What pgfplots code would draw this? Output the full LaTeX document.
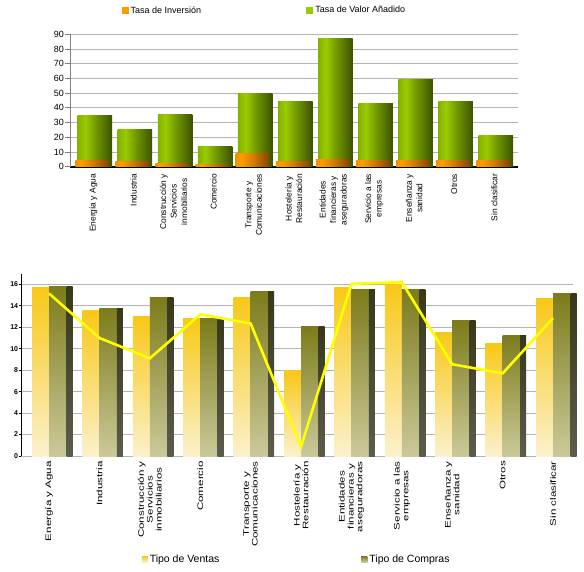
\documentclass[border=0pt]{standalone}
\usepackage{fontspec}
\setmainfont{Liberation Sans}
\usepackage{pgfplots}
\pgfplotsset{compat=1.18}

\definecolor{gridgray}{HTML}{B4B4B4}
\definecolor{g1}{HTML}{86B000}
\definecolor{g2}{HTML}{9ACC00}
\definecolor{g3}{HTML}{3C5200}
\definecolor{o1}{HTML}{F09000}
\definecolor{o2}{HTML}{FF9C00}
\definecolor{o3}{HTML}{864600}
\definecolor{legorange}{HTML}{FF9900}
\definecolor{leggreen}{HTML}{99CC00}
\definecolor{vtop}{HTML}{F8C818}
\definecolor{vbot}{HTML}{FBF1CC}
\definecolor{ctop}{HTML}{7C7C1C}
\definecolor{cbot}{HTML}{CBC99A}
\definecolor{stop}{HTML}{38381A}
\definecolor{sbot}{HTML}{5C5C4E}
\definecolor{linecol}{HTML}{FFFF00}

\pgfdeclarehorizontalshading{cylgreen}{100bp}{color(0bp)=(g1); color(25bp)=(g1); color(36bp)=(g2); color(52bp)=(g2!55!g3); color(75bp)=(g3); color(100bp)=(g3)}
\pgfdeclarehorizontalshading{cylorange}{100bp}{color(0bp)=(o1); color(25bp)=(o1); color(34bp)=(o2); color(52bp)=(o2!60!o3); color(75bp)=(o3); color(100bp)=(o3)}

% one bar per \addplot so that each bar gets its own shading
\newcommand\gbar[2]{\addplot[ybar, bar width=34.5pt, bar shift=1.4pt, draw=none, shade, shading=cylgreen, forget plot] coordinates {(#1,#2)};}
\newcommand\obar[2]{\addplot[ybar, bar width=33.5pt, bar shift=-1.4pt, draw=none, shade, shading=cylorange, forget plot] coordinates {(#1,#2)};}
\newcommand\vbar[2]{\addplot[ybar, bar width=17pt, bar shift=-8.5pt, draw=none, top color=vtop, bottom color=vbot, forget plot] coordinates {(#1,#2)};}
\newcommand\cbar[2]{%
  \addplot[ybar, bar width=17.5pt, bar shift=8.75pt, draw=none, top color=ctop, bottom color=cbot, forget plot] coordinates {(#1,#2)};%
  \addplot[ybar, bar width=6pt, bar shift=20.5pt, draw=none, top color=stop, bottom color=sbot, forget plot] coordinates {(#1,#2)};}

\begin{document}
\begin{tikzpicture}
\useasboundingbox (0pt,0pt) rectangle (584pt,-572pt);

% ---------------- top chart ----------------
\begin{axis}[
  scale only axis, width=448pt, height=132.4pt,
  at={(70pt,-166.7pt)}, anchor=south west,
  xmin=-0.584, xmax=10.588, ymin=0, ymax=90,
  ytick={0,10,...,90},
  ymajorgrids, grid style={draw=gridgray, line width=0.9pt},
  axis lines*=left,
  x axis line style={black, line width=1.6pt},
  y axis line style={gray, line width=0.8pt},
  xtick={0,...,10},
  xtick style={draw=none},
  ytick style={draw=gray, line width=0.8pt},
  tick align=outside, major tick length=5pt,
  /pgf/number format/assume math mode=true,
  y tick label style={font=\fontsize{9}{10}\selectfont, inner xsep=1pt},
  x tick label style={rotate=90, anchor=east, align=center, font=\fontsize{8.4}{10.5}\selectfont, inner xsep=2pt},
  xticklabels={{Energía y Agua},{Industria},{Construcción y\\Servicios\\inmobiliarios},{Comercio},{Transporte y\\Comunicaciones},{Hostelería y\\Restauración},{Entidades\\financieras y\\aseguradoras},{Servicio a las\\empresas},{Enseñanza y\\sanidad},{Otros},{Sin clasificar}},
  legend columns=2,
  legend image code/.code={\fill[#1, draw=none] (0pt,-3.5pt) rectangle (7pt,3.5pt);},
  legend style={draw=none, fill=none, at={(0.115,1.18)}, anchor=west, inner sep=0pt,
    font=\fontsize{9}{11}\selectfont, cells={anchor=west},
    /tikz/every even column/.append style={column sep=103pt}},
]
% Tasa de Valor Añadido
\gbar{0}{35}\gbar{1}{25}\gbar{2}{35.5}\gbar{3}{13.5}\gbar{4}{49.5}\gbar{5}{44}
\gbar{6}{87}\gbar{7}{43.3}\gbar{8}{59.6}\gbar{9}{44}\gbar{10}{21}
% Tasa de Inversión
\obar{0}{4.5}\obar{1}{3.2}\obar{2}{2.3}\obar{3}{1.8}\obar{4}{9.3}\obar{5}{3.2}
\obar{6}{5.2}\obar{7}{3.9}\obar{8}{4.5}\obar{9}{4.5}\obar{10}{4.5}
\addlegendimage{fill=legorange}
\addlegendentry{Tasa de Inversión}
\addlegendimage{fill=leggreen}
\addlegendentry{Tasa de Valor Añadido}
\end{axis}

% ---------------- bottom chart ----------------
\begin{axis}[
  scale only axis, width=551.7pt, height=182.4pt,
  at={(21.3pt,-456pt)}, anchor=south west,
  xmin=-0.55, xmax=10.396, ymin=0, ymax=17,
  clip=false,
  ytick={0,2,...,16},
  ymajorgrids, grid style={draw=gridgray, line width=0.9pt},
  axis lines*=left,
  x axis line style={gridgray, line width=0.9pt},
  y axis line style={black, line width=0.8pt},
  xtick={0,...,10},
  xtick style={draw=none},
  ytick style={draw=black, line width=0.8pt},
  tick align=outside, major tick length=2pt,
  /pgf/number format/assume math mode=true,
  y tick label style={font=\fontsize{7}{8}\selectfont\bfseries, inner xsep=1pt},
  x tick label style={rotate=90, xscale=1.45, anchor=east, align=center, font=\fontsize{8}{8.8}\selectfont, inner xsep=2pt},
  xticklabels={{Energía y Agua},{Industria},{Construcción y\\Servicios\\inmobiliarios},{Comercio},{Transporte y\\Comunicaciones},{Hostelería y\\Restauración},{Entidades\\financieras y\\aseguradoras},{Servicio a las\\empresas},{Enseñanza y\\sanidad},{Otros},{Sin clasificar}},
  legend columns=2,
  legend image code/.code={\fill[#1, draw=none] (0pt,-3pt) rectangle (6pt,3pt);},
  legend style={draw=none, fill=none, at={(0.218,-0.565)}, anchor=west, inner sep=0pt,
    font=\fontsize{10.5}{12}\selectfont, cells={anchor=west},
    /tikz/every even column/.append style={column sep=140pt}},
]
% Tipo de Ventas
\vbar{0}{15.7}\vbar{1}{13.55}\vbar{2}{13.0}\vbar{3}{12.8}\vbar{4}{14.75}\vbar{5}{7.95}
\vbar{6}{15.75}\vbar{7}{15.95}\vbar{8}{11.55}\vbar{9}{10.5}\vbar{10}{14.65}
% Tipo de Compras
\cbar{0}{15.8}\cbar{1}{13.75}\cbar{2}{14.75}\cbar{3}{12.8}\cbar{4}{15.35}\cbar{5}{12.05}
\cbar{6}{15.5}\cbar{7}{15.5}\cbar{8}{12.6}\cbar{9}{11.25}\cbar{10}{15.15}
% line
\addplot[linecol, line width=2.6pt, mark=none, forget plot]
 coordinates {(0,15.15) (1,11.0) (2,9.1) (3,13.2) (4,12.35) (5,0.85) (6,16.05) (7,16.2) (8,8.55) (9,7.7) (10,12.85)};
\addlegendimage{top color=vtop, bottom color=vbot}
\addlegendentry{Tipo de Ventas}
\addlegendimage{top color=ctop, bottom color=cbot}
\addlegendentry{Tipo de Compras}
\end{axis}
\end{tikzpicture}
\end{document}
